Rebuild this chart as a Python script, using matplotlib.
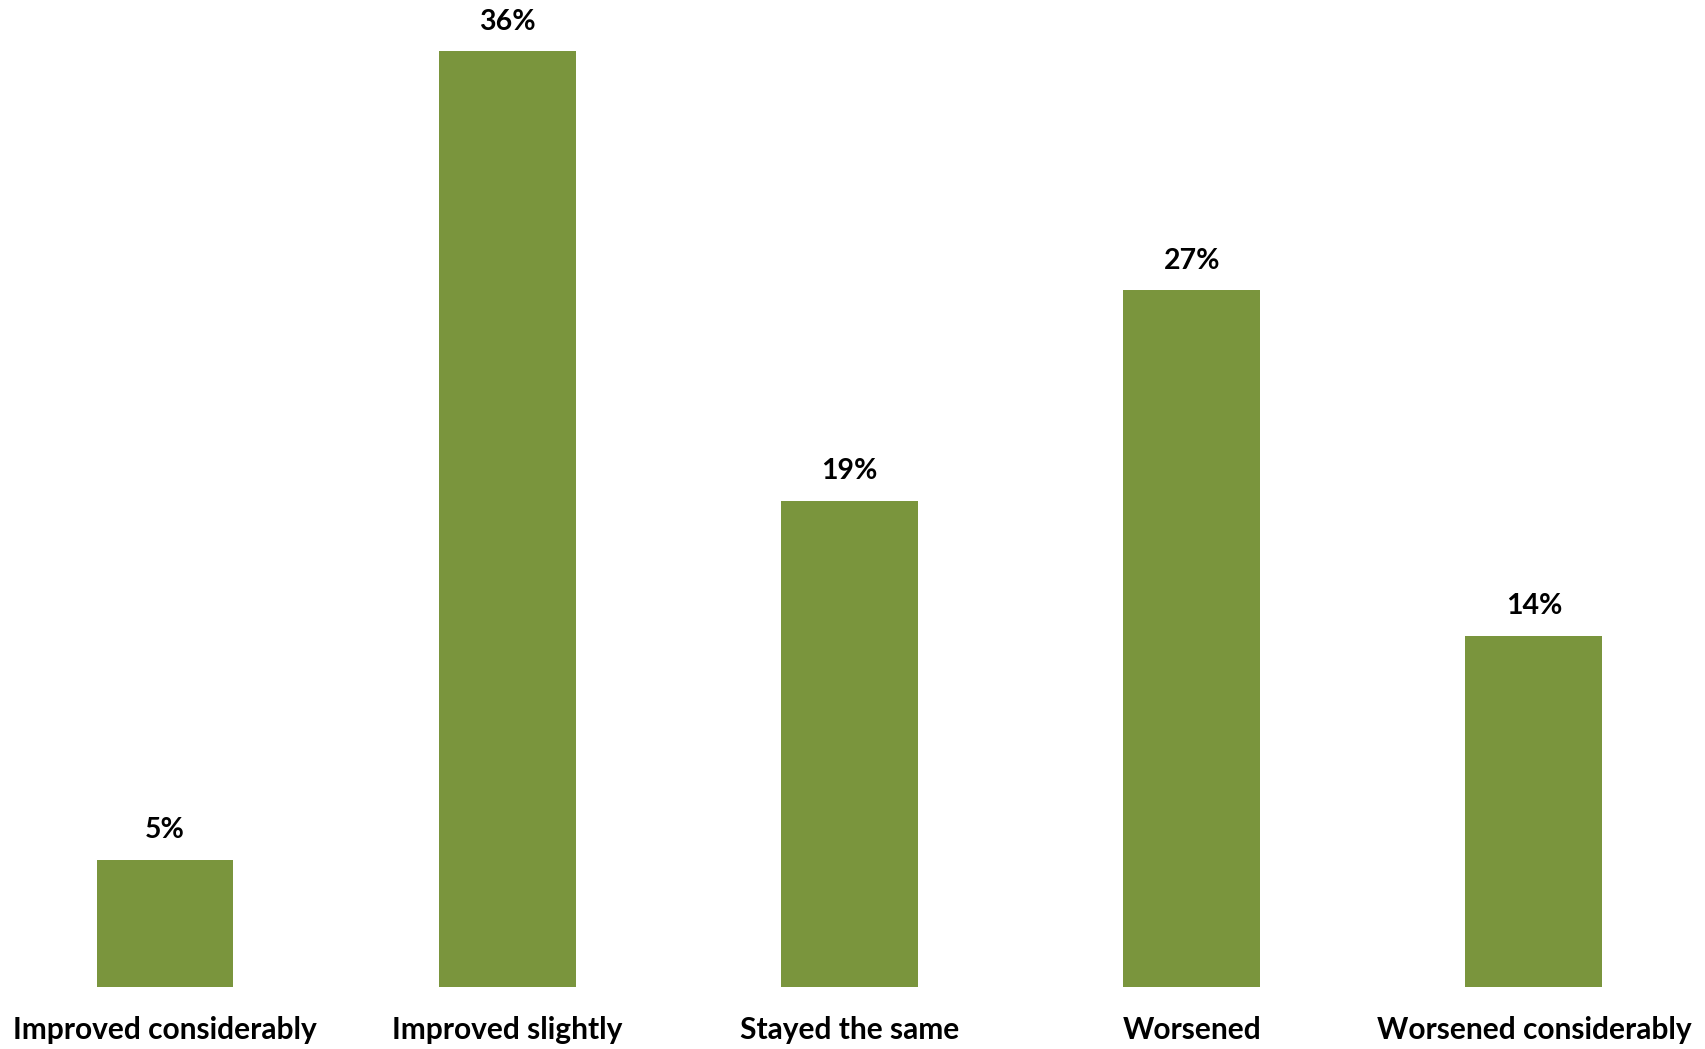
import matplotlib.pyplot as plt

# answers and share of respondents (%)
categories = ['Improved considerably', 'Improved slightly', 'Stayed the same',
              'Worsened', 'Worsened considerably']
values = [4.9, 36.0, 18.7, 26.8, 13.5]
value_labels = ['5%', '36%', '19%', '27%', '14%']

plt.rcParams['font.family'] = ['Lato', 'DejaVu Sans']

fig = plt.figure(figsize=(17.06, 10.49), dpi=100)
ax = fig.add_axes([0, 0.059, 1, 0.941])

x = range(len(categories))
bars = ax.bar(x, values, width=0.4, color='#7a953d')

for b, lab in zip(bars, value_labels):
    ax.annotate(lab, (b.get_x() + b.get_width() / 2, b.get_height()),
                xytext=(0, 12), textcoords='offset points',
                ha='center', va='bottom', fontsize=20.5, fontweight='bold')

ax.set_xlim(-0.482, 4.503)
ax.set_ylim(0, 37.97)
ax.set_xticks(list(x))
ax.set_xticklabels(categories, fontsize=21.5, fontweight='bold')
ax.tick_params(axis='x', length=0, pad=21)
ax.set_yticks([])
for s in ax.spines.values():
    s.set_visible(False)

fig.savefig('out.png', dpi=100)
